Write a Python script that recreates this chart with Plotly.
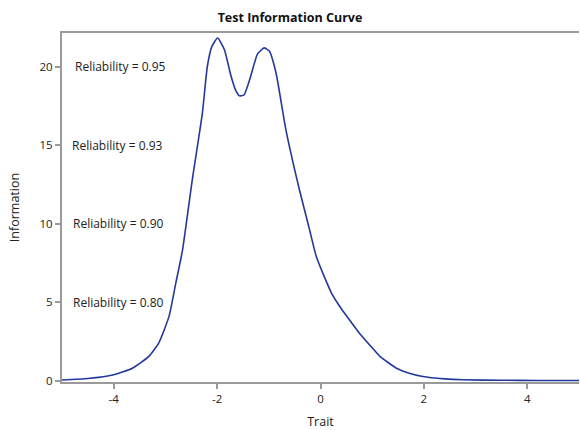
import plotly.graph_objects as go

trait = [-5.0, -4.5, -4.0, -3.64, -3.32, -3.13, -2.93, -2.80, -2.67, -2.48, -2.285, -2.19,
         -2.1, -1.99, -1.86, -1.73, -1.64, -1.57, -1.48, -1.35, -1.22, -1.09, -0.99, -0.86,
         -0.67, -0.41, -0.21, -0.08, 0.21, 0.4, 0.6, 0.76, 1.0, 1.15, 1.47, 1.7, 1.98,
         2.4, 2.76, 3.5, 4.2, 5.0]
information = [0.05, 0.14, 0.38, 0.8, 1.55, 2.4, 4.1, 6.2, 8.3, 12.8, 17.05, 20.0,
               21.3, 21.83, 21.1, 19.4, 18.5, 18.15, 18.2, 19.4, 20.8, 21.2, 21.0, 19.6,
               16.0, 12.2, 9.6, 7.9, 5.6, 4.6, 3.7, 3.0, 2.1, 1.55, 0.8, 0.5, 0.27,
               0.12, 0.06, 0.03, 0.02, 0.02]

rel_labels = ["Reliability = 0.95", "Reliability = 0.93", "Reliability = 0.90", "Reliability = 0.80"]
rel_info = [20, 15, 10, 5]
rel_x = [-3.86, -3.92, -3.9, -3.9]

x_ticks = [-4, -2, 0, 2, 4]
x_ticktext = ["-4", "-2", "0", "2", "4"]
y_ticks = [0, 5, 10, 15, 20]

FONT = "Open Sans, Noto Sans, sans-serif"

fig = go.Figure()
fig.add_trace(go.Scatter(x=trait, y=information, mode="lines",
                         line=dict(color="#23399a", width=1.6, shape="spline", smoothing=0.5),
                         showlegend=False, hoverinfo="skip"))

for lbl, yv, xv in zip(rel_labels, rel_info, rel_x):
    fig.add_annotation(x=xv, y=yv, text=lbl, showarrow=False, xref="x", yref="y",
                       font=dict(family=FONT, size=12, color="#222222"))

axis_common = dict(showgrid=False, zeroline=False, showline=True, linecolor="#9a9a9a",
                   linewidth=2, ticks="outside", ticklen=5, tickwidth=1.5, tickcolor="#9a9a9a",
                   automargin=False,
                   tickfont=dict(family=FONT, size=11.5, color="#222222"))

fig.update_layout(
    width=580, height=430,
    margin=dict(l=62, r=1, t=33, b=48),
    paper_bgcolor="white", plot_bgcolor="white",
    title=dict(text="<b>Test Information Curve</b>", x=0.5, xref="container", xanchor="center",
               y=1 - 18 / 430, yref="container", yanchor="middle",
               font=dict(family=FONT, size=12.5, color="#111111")),
    xaxis=dict(range=[-5, 5], tickvals=x_ticks, ticktext=x_ticktext, mirror=True,
               title=dict(text="Trait", font=dict(family=FONT, size=12.5, color="#222222"),
                          standoff=15),
               **axis_common),
    yaxis=dict(range=[-0.08, 22.15], tickvals=y_ticks, mirror=False,
               title=dict(text="Information", font=dict(family=FONT, size=12.5, color="#222222"),
                          standoff=17),
               **axis_common),
)

fig.write_html("out.html",
               config={"displayModeBar": False},
               post_script="document.body.style.margin='0';document.body.style.padding='0';"
                           "document.body.style.overflow='hidden';")
